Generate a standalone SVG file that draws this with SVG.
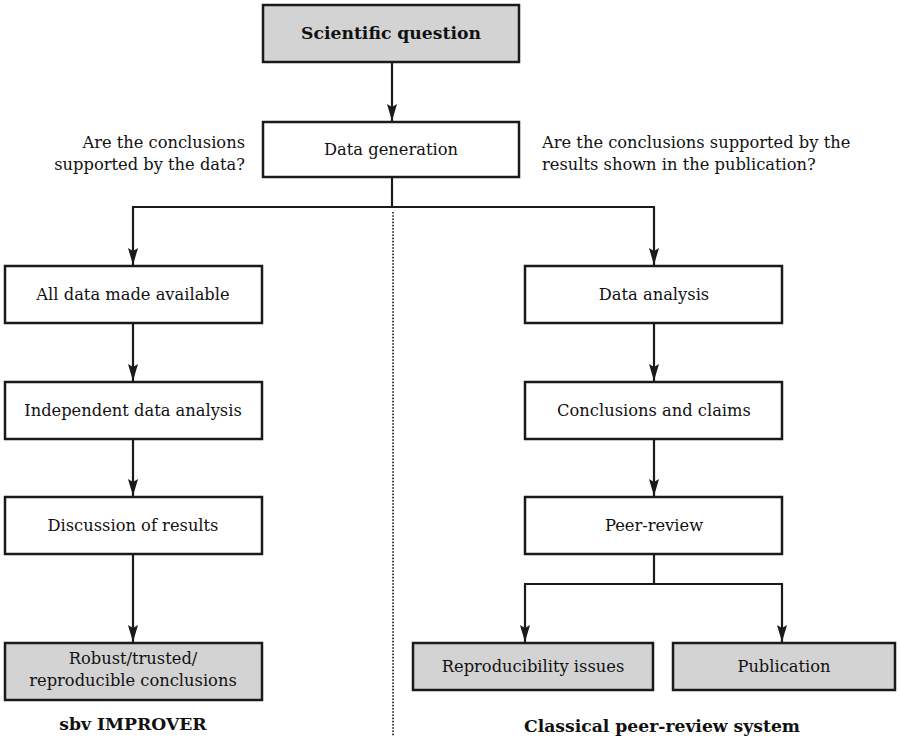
<svg xmlns="http://www.w3.org/2000/svg" width="900" height="743" viewBox="0 0 900 743">
<defs>
<style>
.box{fill:#fff;stroke:#1a1a1a;stroke-width:2.5}
.gray{fill:#d3d3d3}
.t{font-family:"DejaVu Serif","Liberation Serif",serif;font-size:16.3px;fill:#111;text-anchor:middle}
.b{font-weight:bold;font-size:17.2px}
.ln{fill:none;stroke:#1a1a1a;stroke-width:2.2}
.dot{fill:none;stroke:#1a1a1a;stroke-width:1.6;stroke-dasharray:1.6 1.6}
</style>
<marker id="ah" viewBox="0 0 17 12" refX="17" refY="6" markerWidth="17" markerHeight="12" markerUnits="userSpaceOnUse" orient="auto">
<path d="M0,1 L17,6 L0,11 L3,6 Z" fill="#1a1a1a"/>
</marker>
</defs>
<rect width="900" height="743" fill="#fff"/>
<g id="connectors">
<path class="ln" d="M392,62 V121" marker-end="url(#ah)"/>
<path class="ln" d="M392,177 V207"/>
<path class="ln" d="M132,207 H655"/>
<path class="ln" d="M133,207 V265" marker-end="url(#ah)"/>
<path class="ln" d="M654,207 V265" marker-end="url(#ah)"/>
<path class="ln" d="M133,323 V381" marker-end="url(#ah)"/>
<path class="ln" d="M133,439 V496" marker-end="url(#ah)"/>
<path class="ln" d="M133,554 V642" marker-end="url(#ah)"/>
<path class="ln" d="M654,323 V381" marker-end="url(#ah)"/>
<path class="ln" d="M654,439 V496" marker-end="url(#ah)"/>
<path class="ln" d="M654,554 V584"/>
<path class="ln" d="M524,584 H783"/>
<path class="ln" d="M525,584 V642" marker-end="url(#ah)"/>
<path class="ln" d="M782,584 V642" marker-end="url(#ah)"/>
<path class="dot" d="M393,212 V736"/>
</g>
<g id="scientific-question">
<rect class="box gray" x="263" y="5" width="256" height="57"/>
<text class="t b" x="391" y="39">Scientific question</text>
</g>
<g id="data-generation">
<rect class="box" x="263" y="122" width="256" height="55"/>
<text class="t" x="391" y="155">Data generation</text>
</g>
<g id="question-left">
<text class="t" x="245" y="148" style="text-anchor:end">Are the conclusions</text>
<text class="t" x="245" y="170" style="text-anchor:end">supported by the data?</text>
</g>
<g id="question-right">
<text class="t" x="542" y="148" style="text-anchor:start">Are the conclusions supported by the</text>
<text class="t" x="542" y="170" style="text-anchor:start">results shown in the publication?</text>
</g>
<g id="all-data">
<rect class="box" x="5" y="266" width="257" height="57"/>
<text class="t" x="133" y="300">All data made available</text>
</g>
<g id="independent-analysis">
<rect class="box" x="5" y="382" width="257" height="57"/>
<text class="t" x="133" y="416">Independent data analysis</text>
</g>
<g id="discussion">
<rect class="box" x="5" y="497" width="257" height="57"/>
<text class="t" x="133" y="531">Discussion of results</text>
</g>
<g id="robust">
<rect class="box gray" x="5" y="643" width="257" height="57"/>
<text class="t" x="133" y="664">Robust/trusted/</text>
<text class="t" x="133" y="686">reproducible conclusions</text>
</g>
<g id="sbv-label">
<text class="t b" x="133" y="730">sbv IMPROVER</text>
</g>
<g id="data-analysis">
<rect class="box" x="525" y="266" width="257" height="57"/>
<text class="t" x="654" y="300">Data analysis</text>
</g>
<g id="conclusions-claims">
<rect class="box" x="525" y="382" width="257" height="57"/>
<text class="t" x="654" y="416">Conclusions and claims</text>
</g>
<g id="peer-review">
<rect class="box" x="525" y="497" width="257" height="57"/>
<text class="t" x="654" y="531">Peer-review</text>
</g>
<g id="reproducibility">
<rect class="box gray" x="413" y="643" width="240" height="47"/>
<text class="t" x="533" y="672">Reproducibility issues</text>
</g>
<g id="publication">
<rect class="box gray" x="673" y="643" width="222" height="47"/>
<text class="t" x="784" y="672">Publication</text>
</g>
<g id="classical-label">
<text class="t b" x="662" y="732">Classical peer-review system</text>
</g>
</svg>
